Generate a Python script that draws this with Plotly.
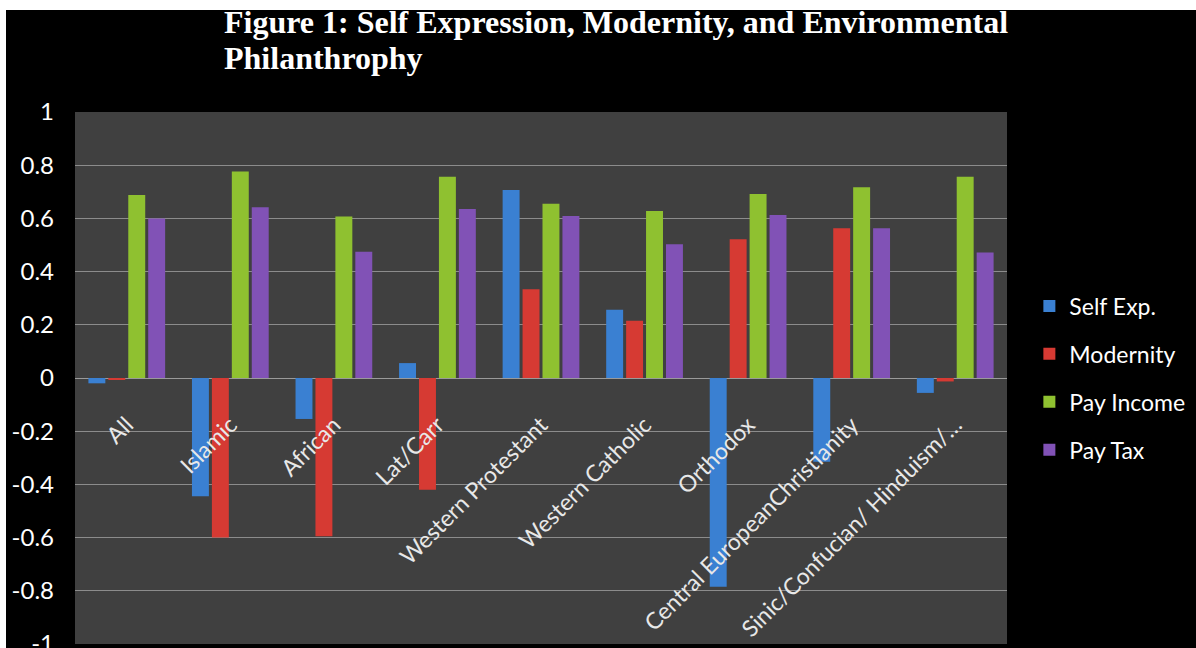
import plotly.graph_objects as go

categories = ["All", "Islamic", "African", "Lat/Carr", "Western Protestant",
              "Western Catholic", "Orthodox", "Central EuropeanChristianity",
              "Sinic/Confucian/ Hinduism/\u2026"]
self_exp = [-0.02, -0.445, -0.154, 0.056, 0.707, 0.257, -0.785, -0.315, -0.056]
modernity = [-0.005, -0.60, -0.595, -0.42, 0.334, 0.215, 0.522, 0.563, -0.013]
pay_income = [0.688, 0.776, 0.607, 0.757, 0.655, 0.628, 0.692, 0.717, 0.757]
pay_tax = [0.60, 0.642, 0.475, 0.635, 0.609, 0.503, 0.613, 0.563, 0.472]

series_names = ["Self Exp.", "Modernity", "Pay Income", "Pay Tax"]
series_values = [self_exp, modernity, pay_income, pay_tax]
series_colors = ["#3A80D2", "#D63A33", "#8FC130", "#8152B6"]

y_tickvals = [1, 0.8, 0.6, 0.4, 0.2, 0, -0.2, -0.4, -0.6, -0.8, -1]
y_ticktext = ["1", "0.8", "0.6", "0.4", "0.2", "0", "-0.2", "-0.4", "-0.6", "-0.8", "-1"]

title_line1 = "Figure 1: Self Expression, Modernity, and Environmental"
title_line2 = "Philanthrophy"

FONT = "Lato, 'Open Sans', sans-serif"
SERIF = "'Liberation Serif', 'Times New Roman', serif"

fig = go.Figure()
for name, vals, col in zip(series_names, series_values, series_colors):
    fig.add_trace(go.Bar(x=categories, y=vals, name=name, legendgroup=name,
                         marker=dict(color=col, line=dict(width=0))))

fig.update_layout(
    width=1196, height=648,
    margin=dict(l=75, r=189, t=112, b=4, pad=0, autoexpand=False),
    paper_bgcolor="#000000",
    plot_bgcolor="#404040",
    barmode="group", bargap=0.23, bargroupgap=0.15,
    showlegend=True,
    legend=dict(x=1.024, xanchor="left", y=0.5, yanchor="middle",
                font=dict(family=FONT, size=23, color="#FFFFFF"),
                bgcolor="rgba(0,0,0,0)", traceorder="grouped",
                tracegroupgap=15),
    xaxis=dict(anchor="free", position=0.5, tickangle=-45, automargin=False,
               showgrid=False, showline=False, zeroline=False, ticks="",
               ticklabelstandoff=28,
               tickfont=dict(family=FONT, size=23, color="#E8E8E8")),
    yaxis=dict(range=[-1, 1], tickvals=y_tickvals, ticktext=y_ticktext,
               automargin=False,
               showgrid=True, gridcolor="#8C8C8C", gridwidth=1,
               zeroline=True, zerolinecolor="#9A9A9A", zerolinewidth=1,
               showline=False, ticks="", ticklabelstandoff=20,
               ticklabeloverflow="allow",
               tickfont=dict(family=FONT, size=24, color="#FFFFFF")),
    shapes=[
        dict(type="rect", xref="paper", yref="paper", x0=-0.2, x1=1.4,
             y0=1 + (112 - 10) / 532, y1=1.4, fillcolor="#FFFFFF",
             line=dict(width=0), layer="below"),
        dict(type="rect", xref="paper", yref="paper", x0=-0.2, x1=(6 - 75) / 932,
             y0=-0.2, y1=1.4, fillcolor="#FFFFFF",
             line=dict(width=0), layer="below"),
    ],
    annotations=[
        dict(text="<b>" + title_line1 + "</b>", xref="paper", yref="paper",
             x=(222 - 75) / 932, y=1 + (112 - 22) / 532, xanchor="left",
             yanchor="middle", showarrow=False,
             font=dict(family=SERIF, size=32, color="#FFFFFF")),
        dict(text="<b>" + title_line2 + "</b>", xref="paper", yref="paper",
             x=(222 - 75) / 932, y=1 + (112 - 58) / 532, xanchor="left",
             yanchor="middle", showarrow=False,
             font=dict(family=SERIF, size=32, color="#FFFFFF")),
    ],
)

fig.write_html("out.html")
